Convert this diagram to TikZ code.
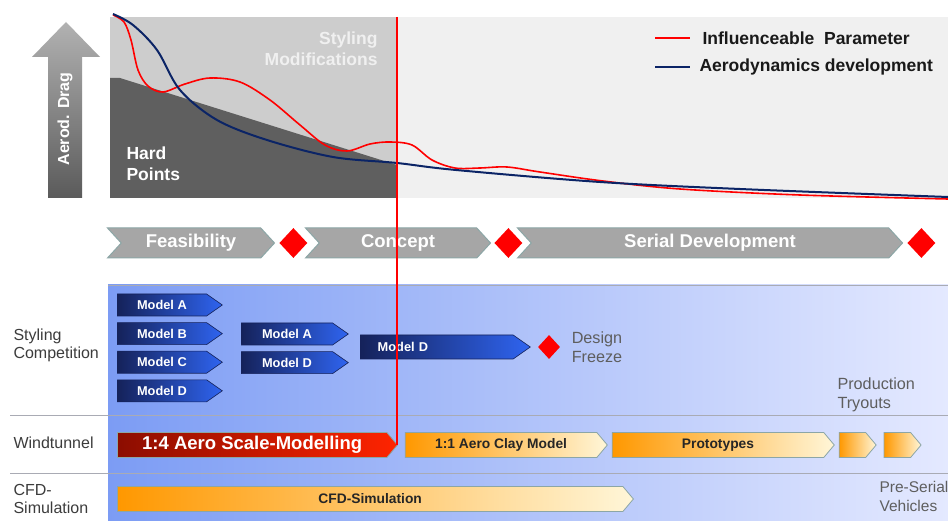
\documentclass[tikz,border=0pt]{standalone}
\usepackage{fontspec}
\setmainfont{Liberation Sans}
\usetikzlibrary{positioning,shapes.symbols,shapes.geometric}

\definecolor{lightbg}{HTML}{F0F0F0}
\definecolor{stylegray}{HTML}{CDCDCD}
\definecolor{hardgray}{HTML}{5F5F5F}
\definecolor{dragblue}{HTML}{0B2466}
\definecolor{draghead}{HTML}{B2B2B2}
\definecolor{dragbase}{HTML}{5A5A5A}
\definecolor{phasegray}{HTML}{A6A6A6}
\definecolor{phaseedge}{HTML}{8CA6A6}
\definecolor{rowleft}{HTML}{7C9CF4}
\definecolor{rowmid}{HTML}{BCCBFB}
\definecolor{rowright}{HTML}{E4E9FF}
\definecolor{rowline}{HTML}{A9ABB4}
\definecolor{modeldark}{HTML}{15225A}
\definecolor{modellight}{HTML}{2F64F0}
\definecolor{scaledark}{HTML}{8C0D00}
\definecolor{scalered}{HTML}{FF2400}
\definecolor{aeroorange}{HTML}{FF9800}
\definecolor{aerocream}{HTML}{FFF6D8}
\definecolor{labelgray}{HTML}{3C3C3C}
\definecolor{notegray}{HTML}{5E5E5E}

\begin{document}
\begin{tikzpicture}[
    x=1pt, y=-1pt,
    phase/.style={
        signal, signal to=east, signal from=west,
        signal pointer angle=95,
        fill=phasegray, draw=phaseedge, line width=1pt,
        minimum height=30pt, inner sep=0pt,
        text=white, font=\fontsize{18.5}{22}\selectfont\bfseries
    },
    gate/.style={
        diamond, fill=red, inner sep=0pt,
        minimum width=28pt, minimum height=30pt
    },
    model/.style={
        signal, signal to=east, signal pointer angle=70,
        left color=modeldark, right color=modellight,
        draw=modeldark, line width=0.6pt,
        minimum height=22pt, inner sep=0pt,
        text=white, font=\fontsize{12.8}{15}\selectfont\bfseries
    },
    clay/.style={
        signal, signal to=east, signal pointer angle=100,
        left color=aeroorange, right color=aerocream,
        draw=phaseedge, line width=0.8pt,
        minimum height=25pt, inner sep=0pt,
        text=black!85, font=\fontsize{13.8}{16}\selectfont\bfseries
    },
    rowlabel/.style={
        anchor=west, align=left, text=labelgray,
        font=\fontsize{16}{18}\selectfont
    },
    note/.style={
        anchor=west, align=left, text=notegray,
        font=\fontsize{16.2}{19}\selectfont
    }
]

\useasboundingbox[fill=white] (0,0) rectangle (948,521);

\fill[stylegray] (110,17) rectangle (397,198);
\fill[lightbg] (397,17) rectangle (948,198);
\fill[hardgray] (110,78) -- (120,78) -- (397,165) -- (397,198) -- (110,198) -- cycle;

\shade[top color=draghead, bottom color=dragbase]
    (48,198) -- (48,57) -- (32,57) -- (66,22) -- (100,57) -- (82,57) -- (82,198) -- cycle;
\node[rotate=90, text=white, font=\fontsize{16}{18}\selectfont\bfseries] (drag) at (65,119) {Aerod. Drag};

\node[anchor=east, align=right, text=lightbg, font=\fontsize{17.5}{21}\selectfont\bfseries] (stylmod) at (381,49) {
Styling \\
Modifications
};
\node[anchor=west, align=left, text=white, font=\fontsize{17.5}{21}\selectfont\bfseries] (hard) at (123,164) {
Hard \\
Points
};

\draw[red, line width=1.6pt] plot[smooth, tension=0.55] coordinates {
    (113,15) (124,22) (131,40) (138,70) (148,86) (163,92) (185,84) (210,78)
    (240,82) (270,100) (300,125) (325,145) (347,151) (370,144) (390,142)
    (412,145) (432,160) (455,168) (480,168) (507,167) (540,172) (603,181)
    (680,189) (800,195) (948,199)};
\draw[dragblue, line width=2pt] plot[smooth, tension=0.55] coordinates {
    (113,14) (133,25) (157,50) (180,90) (217,120) (267,140) (333,157)
    (397,163) (456,170) (600,182) (740,189) (948,197)};

\node[anchor=west, font=\fontsize{17.5}{20}\selectfont\bfseries, text=black!90] (legin) at (699,38) {Influenceable\ \ Parameter};
\node[anchor=west, font=\fontsize{17.5}{20}\selectfont\bfseries, text=black!90] (legad) at (696,67) {Aerodynamics development};
\draw[red, line width=2pt] ([xshift=-44pt]legin.west) -- ([xshift=-9pt]legin.west);
\draw[dragblue, line width=2pt] ([xshift=-41pt]legad.west) -- ([xshift=-6pt]legad.west);

\node[phase, minimum width=167pt] (feas) at (191,243) {Feasibility};
\node[gate, right=4pt of feas] (gfeas) {};
\node[phase, minimum width=185pt, right=11pt of gfeas] (concept) {Concept};
\node[gate, right=3pt of concept] (gconcept) {};
\node[phase, minimum width=385pt, right=8pt of gconcept] (serial) {Serial Development};
\node[gate, right=4pt of serial] (gserial) {};

\shade[left color=rowleft, middle color=rowmid, right color=rowright] (108,285) rectangle (948,521);
\draw[rowline] (108,285) -- (948,285);
\draw[rowline] (10,415) -- (948,415);
\draw[rowline] (10,473) -- (948,473);

\node[rowlabel] (lstyling) at (10,345) {Styling\\Competition};
\node[rowlabel] (lwind) at (10,443) {Windtunnel};
\node[rowlabel] (lcfd) at (10,499) {CFD-\\Simulation};

\node[model, minimum width=105pt, anchor=west] (ma1) at (117,305) {Model A};
\node[model, minimum width=105pt, below=6pt of ma1] (mb1) {Model B};
\node[model, minimum width=105pt, below=6pt of mb1] (mc1) {Model C};
\node[model, minimum width=105pt, below=6pt of mc1] (md1) {Model D};

\node[model, minimum width=107pt, anchor=west] (ma2) at (241,334) {Model A};
\node[model, minimum width=107pt, below=6pt of ma2] (md2) {Model D};

\node[model, minimum width=170pt, minimum height=24pt, text width=118pt, align=left, anchor=west] (md3) at (360,347) {Model D};
\node[gate, minimum width=22pt, minimum height=24pt, right=7pt of md3] (freeze) {};
\node[note, right=8pt of freeze] (freezetxt) {Design\\Freeze};

\node[clay, left color=scaledark, right color=scalered, text=white,
      font=\fontsize{18.5}{20}\selectfont\bfseries,
      minimum width=280pt, anchor=west] (scale) at (117,445) {1:4 Aero Scale-Modelling};
\node[clay, minimum width=202pt, right=7pt of scale] (clay) {1:1 Aero Clay Model};
\node[clay, minimum width=222pt, right=4pt of clay] (proto) {Prototypes};
\node[clay, minimum width=37pt, right=4pt of proto] (try1) {};
\node[clay, minimum width=37pt, right=7pt of try1] (try2) {};
\node[note] (tryout) at (834,395) {Production\\Tryouts};

\node[clay, minimum width=516pt, anchor=west] (cfd) at (117,499) {CFD-Simulation};
\node[note, font=\fontsize{15.5}{19}\selectfont] (preserial) at (876,496) {Pre-Serial\\Vehicles};

\coordinate (milestone) at (397,17);
\draw[red, line width=2pt] (milestone) -- (milestone |- scale.east);

\end{tikzpicture}
\end{document}
